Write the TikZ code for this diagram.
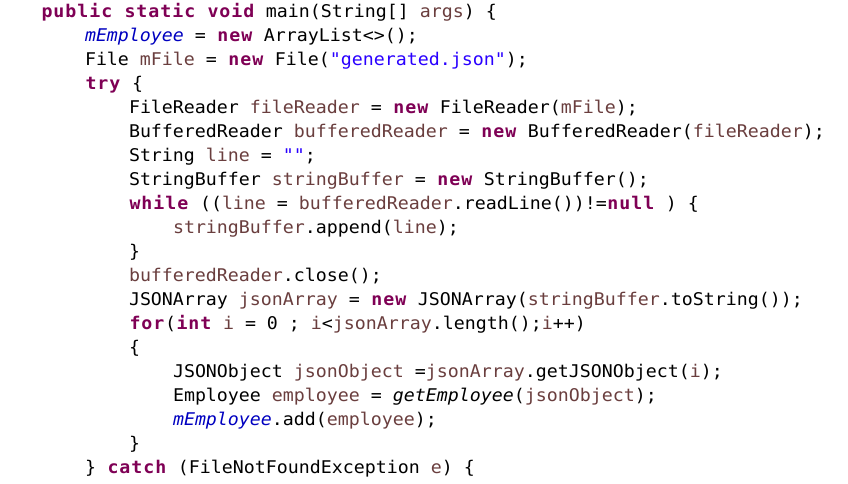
\documentclass[tikz,border=0pt]{standalone}
\usepackage{fontspec}
\setmonofont[FakeStretch=1.044]{DejaVu Sans Mono}
\usepackage{xcolor}
\definecolor{kwc}{HTML}{7F0055}
\definecolor{varc}{HTML}{6A3E3E}
\definecolor{fldc}{HTML}{0000C0}
\definecolor{strc}{HTML}{2A00FF}
\def\kwloop#1{\ifx\relax#1\else\makebox[12pt][c]{#1}\expandafter\kwloop\fi}
\newcommand\kw[1]{{\color{kwc}\bfseries\kwloop#1\relax}}
\newcommand\vr[1]{{\color{varc}#1}}
\newcommand\fd[1]{{\color{fldc}\itshape #1}}
\newcommand\st[1]{{\color{strc}#1}}
\newcommand\mi[1]{{\itshape #1}}
\begin{document}
\begin{tikzpicture}[x=1pt,y=1pt,
  codeline/.style={anchor=base west,inner sep=0pt,outer sep=0pt,
    font=\ttfamily\fontsize{17.5pt}{24pt}\selectfont}]
\fill[white] (0,0) rectangle (848,484);
\useasboundingbox (0,0) rectangle (848,484);
\node[codeline] (l1) at (41,466.7) {\kw{public} \kw{static} \kw{void} main(String[] \vr{args}) \{};
\node[codeline] (l2) at (85,442.7) {\fd{mEmployee} = \kw{new} ArrayList<>();};
\node[codeline] (l3) at (85,418.7) {File \vr{mFile} = \kw{new} File(\st{"generated.json"});};
\node[codeline] (l4) at (85,394.7) {\kw{try} \{};
\node[codeline] (l5) at (129,370.7) {FileReader \vr{fileReader} = \kw{new} FileReader(\vr{mFile});};
\node[codeline] (l6) at (129,346.7) {BufferedReader \vr{bufferedReader} = \kw{new} BufferedReader(\vr{fileReader});};
\node[codeline] (l7) at (129,322.7) {String \vr{line} = \st{""};};
\node[codeline] (l8) at (129,298.7) {StringBuffer \vr{stringBuffer} = \kw{new} StringBuffer();};
\node[codeline] (l9) at (129,274.7) {\kw{while} ((\vr{line} = \vr{bufferedReader}.readLine())!=\kw{null} ) \{};
\node[codeline] (l10) at (173,250.7) {\vr{stringBuffer}.append(\vr{line});};
\node[codeline] (l11) at (129,226.7) {\}};
\node[codeline] (l12) at (129,202.7) {\vr{bufferedReader}.close();};
\node[codeline] (l13) at (129,178.7) {JSONArray \vr{jsonArray} = \kw{new} JSONArray(\vr{stringBuffer}.toString());};
\node[codeline] (l14) at (129,154.7) {\kw{for}(\kw{int} \vr{i} = 0 ; \vr{i}<\vr{jsonArray}.length();\vr{i}++)};
\node[codeline] (l15) at (129,130.7) {\{};
\node[codeline] (l16) at (173,106.7) {JSONObject \vr{jsonObject} =\vr{jsonArray}.getJSONObject(\vr{i});};
\node[codeline] (l17) at (173,82.7) {Employee \vr{employee} = \mi{getEmployee}(\vr{jsonObject});};
\node[codeline] (l18) at (173,58.7) {\fd{mEmployee}.add(\vr{employee});};
\node[codeline] (l19) at (129,34.7) {\}};
\node[codeline] (l20) at (85,10.7) {\} \kw{catch} (FileNotFoundException \vr{e}) \{};
\end{tikzpicture}
\end{document}
